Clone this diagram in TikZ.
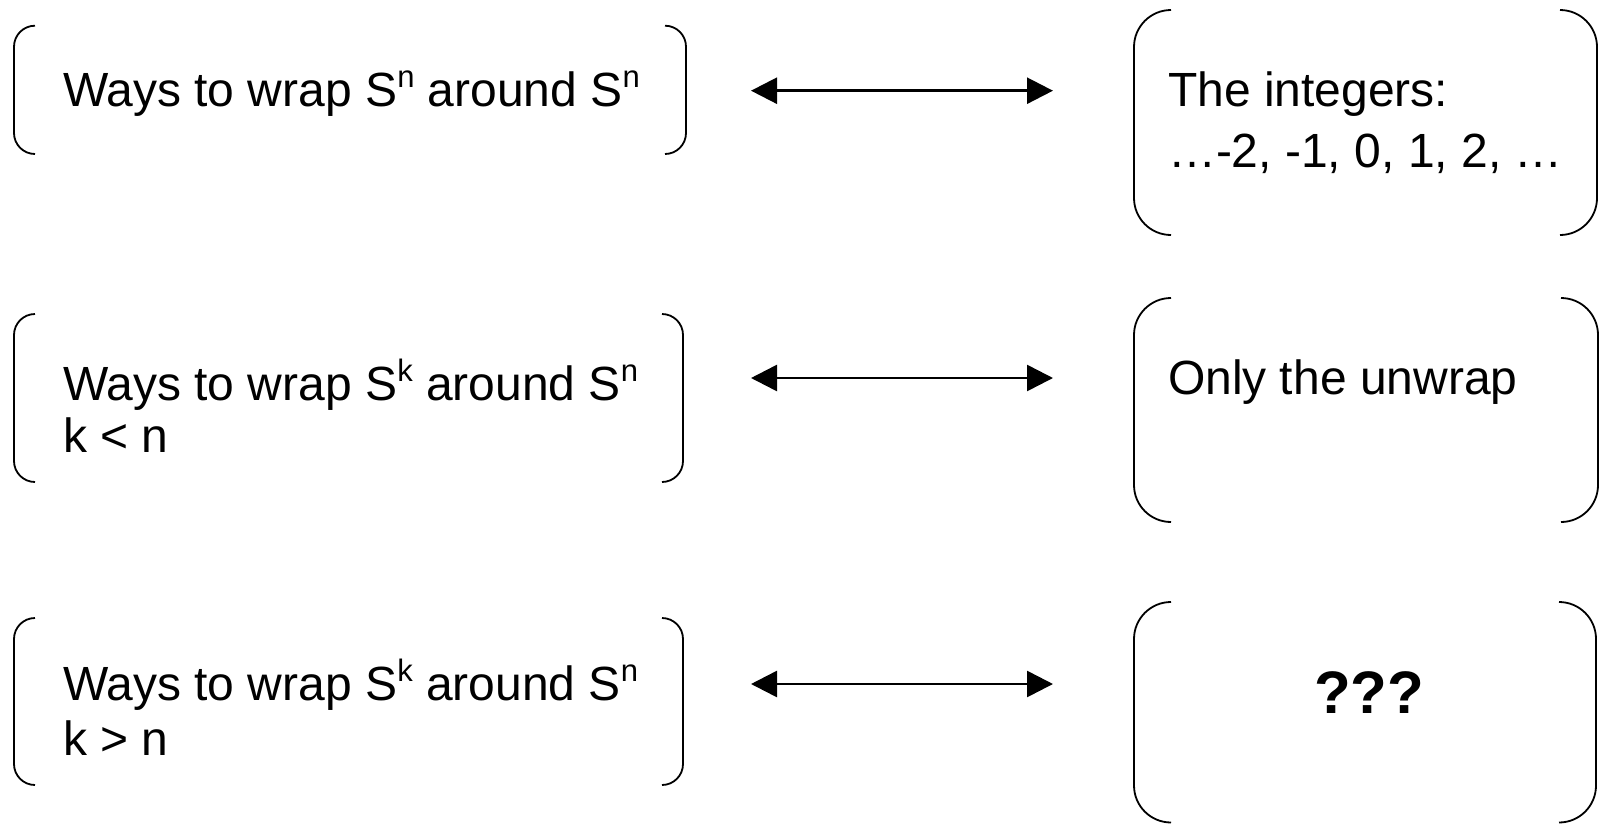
\documentclass[tikz,border=0pt]{standalone}
\usepackage{fontspec}
\setmainfont{Liberation Sans}
\usetikzlibrary{arrows.meta}

% raised, reduced index letter (S^n etc.)
\newcommand\upidx[1]{\raisebox{9.5pt}{\fontsize{15.5}{15.5}\selectfont #1}}

% bracket pair: name, x1, y1, x2, y2, corner radius
\newcommand\bracketpair[6]{%
  \node[frame, minimum width={(#4-#2)*0.5pt}, minimum height={(#5-#3)*0.5pt}]
    (#1) at ({(#2+#4)/2},{(#3+#5)/2}) {};
  \draw[brk, rounded corners=#6]
    ([xshift=#6]#1.north west) -- (#1.north west) -- (#1.south west) -- ([xshift=#6]#1.south west);
  \draw[brk, rounded corners=#6]
    ([xshift=-#6]#1.north east) -- (#1.north east) -- (#1.south east) -- ([xshift=-#6]#1.south east);
}

\begin{document}
\begin{tikzpicture}[x=0.5pt,y=-0.5pt,
  frame/.style={draw=none, inner sep=0pt, outer sep=0pt, rectangle},
  brk/.style={line width=0.9pt, black},
  txt/.style={inner sep=0pt, outer sep=0pt, align=left, anchor=base west},
  biarrow/.style={line width=1.3pt,
    {Triangle[length=13pt,width=13pt]}-{Triangle[length=13pt,width=13pt]}},
]
\useasboundingbox (0,0) rectangle (1601,825);

% left column
\bracketpair{L1}{14}{25.7}{686}{154}{10.5pt}
\bracketpair{L2}{14}{314}{683}{482}{10.5pt}
\bracketpair{L3}{14}{618}{683}{785}{10.5pt}
% right column
\bracketpair{R1}{1134}{10}{1597}{235}{18.5pt}
\bracketpair{R2}{1134}{298}{1598}{522}{18.5pt}
\bracketpair{R3}{1134}{602}{1596}{822.5}{18.5pt}

% texts (base anchor of a two-line node sits on its last line)
\node[txt, font=\fontsize{24}{26}\selectfont] (t1) at (63,106)
  {Ways to wrap S\upidx{n} around S\upidx{n}};
\node[txt, font=\fontsize{24}{26}\selectfont] (t2) at (63,452)
  {Ways to wrap S\upidx{k} around S\upidx{n}\\k < n};
\node[txt, font=\fontsize{24}{27.5}\selectfont] (t3) at (63,755.5)
  {Ways to wrap S\upidx{k} around S\upidx{n}\\k > n};
\node[txt, font=\fontsize{24}{30.5}\selectfont] (u1) at (1168,167)
  {The integers:\\…-2, -1, 0, 1, 2, …};
\node[txt, font=\fontsize{24}{26}\selectfont] (u2) at (1168,394)
  {Only the unwrap};
\node[inner sep=0pt, anchor=base, font=\fontsize{30}{30}\bfseries] (u3) at (1369,713)
  {???};

% arrow ends
\coordinate (a1l) at (751,90.7);  \coordinate (a1r) at (1053,90.7);
\coordinate (a2l) at (751,378);   \coordinate (a2r) at (1053,378);
\coordinate (a3l) at (751,684);   \coordinate (a3r) at (1053,684);
\draw[biarrow] (a1l) -- (a1r);
\draw[biarrow] (a2l) -- (a2r);
\draw[biarrow] (a3l) -- (a3r);
\end{tikzpicture}
\end{document}
